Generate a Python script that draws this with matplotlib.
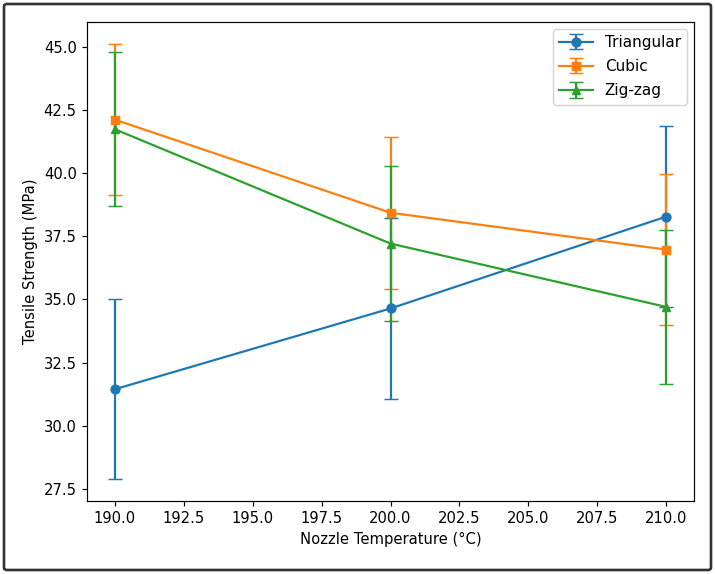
import matplotlib
matplotlib.use("Agg")
import matplotlib.pyplot as plt
from matplotlib.patches import FancyBboxPatch

temperatures = [190, 200, 210]
series_names = ["Triangular", "Cubic", "Zig-zag"]
triangular_mean = [31.44, 34.64, 38.28]
triangular_err = [3.56, 3.57, 3.57]
cubic_mean = [42.12, 38.43, 36.97]
cubic_err = [3.0, 3.0, 3.0]
zigzag_mean = [41.74, 37.21, 34.70]
zigzag_err = [3.06, 3.06, 3.06]

DPI = 106
fig = plt.figure(figsize=(715 / DPI, 574 / DPI), dpi=DPI)
ax = fig.add_axes([87 / 715, 1 - 501 / 574, (694 - 87) / 715, (501 - 22) / 574])

ax.errorbar(temperatures, triangular_mean, yerr=triangular_err, marker="o", capsize=5, label=series_names[0])
ax.errorbar(temperatures, cubic_mean, yerr=cubic_err, marker="s", capsize=5, label=series_names[1])
ax.errorbar(temperatures, zigzag_mean, yerr=zigzag_err, marker="^", capsize=5, label=series_names[2])

ax.set_xlabel("Nozzle Temperature (°C)")
ax.set_ylabel("Tensile Strength (MPa)")
ax.legend(loc="upper right", fontsize=10.4, labelspacing=0.6, handlelength=2.2,
          borderaxespad=0.45)

border = FancyBboxPatch((4 / 715, 4 / 574), 1 - 8 / 715, 1 - 8 / 574,
                        boxstyle="round,pad=0,rounding_size=0.004",
                        transform=fig.transFigure, fill=False,
                        edgecolor="#333333", linewidth=1.8)
fig.patches.append(border)

fig.savefig("out.png", dpi=DPI)
